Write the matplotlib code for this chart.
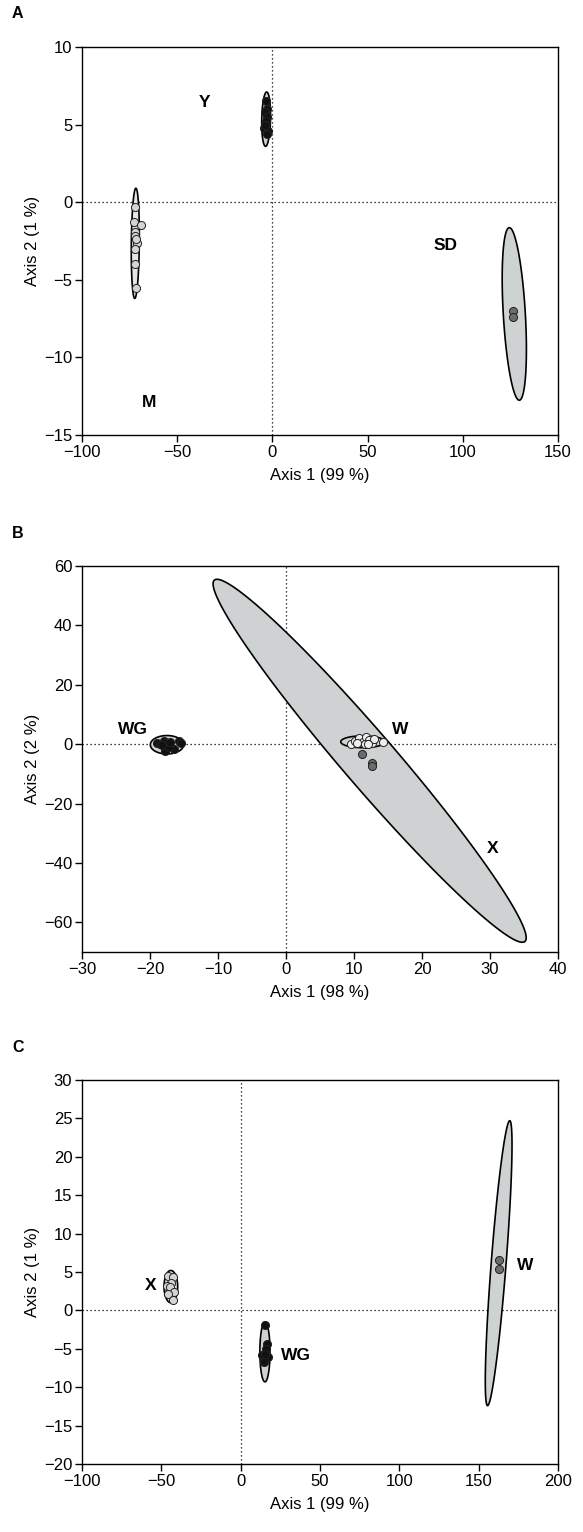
import numpy as np
import matplotlib
matplotlib.use("Agg")
import matplotlib.pyplot as plt

plt.rcParams['font.family'] = ['Liberation Sans', 'DejaVu Sans']

# ---------------- Panel A data ----------------
A_M_x = [-72.0, -72.7, -69.2, -72.4, -72.0, -71.0, -72.0, -72.3, -71.5, -71.8]
A_M_y = [-0.3, -1.3, -1.45, -1.9, -2.2, -2.6, -3.0, -4.0, -5.5, -2.4]
A_Y_x = [-3.5, -3.0, -4.0, -3.0, -3.5, -4.5, -2.5, -3.0, -4.0]
A_Y_y = [6.5, 6.0, 5.8, 5.5, 5.2, 4.8, 4.6, 4.4, 5.0]
A_SD_x = [126.5, 126.5]
A_SD_y = [-7.0, -7.4]
# ellipses: centre, semi-axis vector 1, semi-axis vector 2 (data units)
A_ell_M = [(-72.0, -2.65), (0.3, 3.55), (2.1, 0.0)]
A_ell_Y = [(-3.3, 5.35), (0.3, 1.75), (2.3, 0.0)]
A_ell_SD = [(127.05, -7.2), (-2.65, 5.56), (5.78, 0.04)]
A_labels = ["Y", "SD", "M"]
A_label_xy = [(-35.4, 6.4), (91.0, -2.8), (-65.0, -12.9)]

# ---------------- Panel B data ----------------
B_WG_x = [-19.0, -18.5, -18.0, -17.5, -17.0, -16.5, -17.8, -17.2, -15.8, -15.5, -18.2, -17.0]
B_WG_y = [0.5, 0.0, 1.0, 0.3, -0.5, -1.5, -2.3, -1.0, 1.2, 0.5, -0.3, 0.8]
B_W_x = [9.5, 10.2, 10.8, 11.3, 11.8, 12.2, 12.6, 13.0, 14.3, 10.5, 11.6, 12.0]
B_W_y = [0.0, 1.2, 2.2, 0.8, 2.5, 1.5, 0.5, 1.8, 0.8, 0.4, 0.2, 0.0]
B_X_x = [11.2, 12.7, 12.7]
B_X_y = [-3.3, -6.3, -7.5]
B_ell_WG = [(-17.5, -0.2), (2.45, 0.0), (0.0, 3.1)]
B_ell_W = [(11.3, 0.8), (3.25, 0.0), (0.0, 2.0)]
B_ell_X = [(12.3, -5.6), (22.8, -60.9), (3.2, 5.2)]
B_labels = ["WG", "W", "X"]
B_label_xy = [(-22.5, 5.1), (16.8, 4.8), (30.4, -35.0)]

# ---------------- Panel C data ----------------
C_X_x = [-45.5, -42.5, -44.0, -46.7, -44.4, -42.0, -45.5, -42.6]
C_X_y = [4.5, 4.3, 3.6, 3.2, 3.0, 2.4, 2.2, 1.3]
C_WG_x = [15.3, 16.4, 16.0, 13.2, 17.4, 14.6, 15.3]
C_WG_y = [-1.9, -4.4, -5.0, -5.8, -6.1, -6.7, -5.7]
C_W_x = [163.0, 162.5]
C_W_y = [6.5, 5.4]
C_ell_X = [(-44.0, 3.1), (4.3, 0.0), (0.0, 2.1)]
C_ell_WG = [(15.3, -5.4), (0.0, 3.9), (3.2, 0.0)]
C_ell_W = [(162.6, 6.15), (7.0, 18.55), (4.68, -0.06)]
C_labels = ["X", "WG", "W"]
C_label_xy = [(-56.5, 3.2), (34.7, -5.9), (179.6, 5.9)]

LIGHT = '#d4d4d4'
DARK = '#6b6b6b'
BLACK = '#111111'
FILL = '#cfd2d3'

W, H = 583, 1532
fig = plt.figure(figsize=(W / 100, H / 100), dpi=100)


def add_ax(left, top, right, bottom):
    return fig.add_axes([left / W, 1 - bottom / H, (right - left) / W, (bottom - top) / H])


def ellipse(ax, spec, fc=FILL):
    (cx, cy), (px, py), (qx, qy) = spec
    t = np.linspace(0, 2 * np.pi, 300)
    x = cx + np.cos(t) * px + np.sin(t) * qx
    y = cy + np.cos(t) * py + np.sin(t) * qy
    ax.fill(x, y, facecolor=fc, edgecolor='black', linewidth=1.2, zorder=2)


def pts(ax, x, y, color):
    ax.scatter(x, y, s=34, facecolor=color, edgecolor='#222222', linewidths=0.7, zorder=3)


def style(ax, xlim, ylim, xticks, yticks, xlabel, ylabel):
    ax.set_xlim(*xlim)
    ax.set_ylim(*ylim)
    ax.set_xticks(xticks)
    ax.set_yticks(yticks)
    ax.axhline(0, color='black', linestyle=(0, (1, 2.2)), linewidth=0.9, zorder=1)
    ax.axvline(0, color='black', linestyle=(0, (1, 2.2)), linewidth=0.9, zorder=1)
    ax.tick_params(direction='out', length=5, width=1, labelsize=12, pad=2)
    for s in ax.spines.values():
        s.set_linewidth(1)
    ax.set_xlabel(xlabel, fontsize=12, labelpad=6)
    ax.set_ylabel(ylabel, fontsize=12, labelpad=3)


def labels(ax, names, xys):
    for n, (x, y) in zip(names, xys):
        ax.text(x, y, n, fontsize=12.5, fontweight='bold', ha='center', va='center', zorder=4)


# Panel A
axA = add_ax(82, 47, 558, 435)
style(axA, (-100, 150), (-15, 10), [-100, -50, 0, 50, 100, 150], [-15, -10, -5, 0, 5, 10],
      'Axis 1 (99 %)', 'Axis 2 (1 %)')
ellipse(axA, A_ell_M, fc='#e6e6e6')
ellipse(axA, A_ell_Y)
ellipse(axA, A_ell_SD)
pts(axA, A_M_x, A_M_y, LIGHT)
pts(axA, A_Y_x, A_Y_y, BLACK)
pts(axA, A_SD_x, A_SD_y, DARK)
labels(axA, A_labels, A_label_xy)
fig.text(12 / W, 1 - 14 / H, 'A', fontsize=11.5, fontweight='bold', va='center')

# Panel B
axB = add_ax(82, 566, 558, 952)
style(axB, (-30, 40), (-70, 60), [-30, -20, -10, 0, 10, 20, 30, 40], [-60, -40, -20, 0, 20, 40, 60],
      'Axis 1 (98 %)', 'Axis 2 (2 %)')
ellipse(axB, B_ell_X)
ellipse(axB, B_ell_WG)
ellipse(axB, B_ell_W)
pts(axB, B_WG_x, B_WG_y, BLACK)
pts(axB, B_W_x, B_W_y, '#eeeeee')
pts(axB, B_X_x, B_X_y, DARK)
labels(axB, B_labels, B_label_xy)
fig.text(12 / W, 1 - 533 / H, 'B', fontsize=11.5, fontweight='bold', va='center')

# Panel C
axC = add_ax(82, 1080, 558, 1464)
style(axC, (-100, 200), (-20, 30), [-100, -50, 0, 50, 100, 150, 200],
      [-20, -15, -10, -5, 0, 5, 10, 15, 20, 25, 30], 'Axis 1 (99 %)', 'Axis 2 (1 %)')
ellipse(axC, C_ell_X, fc='#e0e0e0')
ellipse(axC, C_ell_WG)
ellipse(axC, C_ell_W)
pts(axC, C_X_x, C_X_y, LIGHT)
pts(axC, C_WG_x, C_WG_y, BLACK)
pts(axC, C_W_x, C_W_y, DARK)
labels(axC, C_labels, C_label_xy)
fig.text(12 / W, 1 - 1047 / H, 'C', fontsize=11.5, fontweight='bold', va='center')

fig.savefig('out.png', dpi=100)
